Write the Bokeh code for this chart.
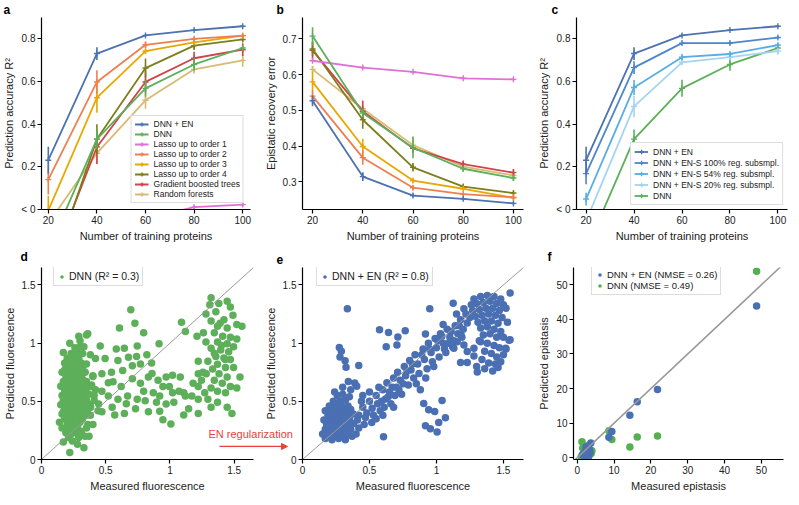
from bokeh.plotting import figure
from bokeh.layouts import row, column
from bokeh.models import FixedTicker, Legend, LegendItem, Label, Arrow, NormalHead
from bokeh.embed import file_html
from bokeh.resources import INLINE

FONT = "Liberation Sans"

# ---------------- data ----------------
n_train = [20, 40, 60, 80, 100]

# panel a: prediction accuracy R2 (values below 0 are clipped at "< 0")
acc_dnn_en = [0.231, 0.731, 0.816, 0.841, 0.859]
acc_dnn_en_err = [0.063, 0.03, 0.005, 0.004, 0.004]
acc_dnn = [-0.19, 0.33, 0.568, 0.680, 0.757]
acc_dnn_err = [0.0, 0.045, 0.04, 0.03, 0.012]
acc_lasso1 = [-0.30, -0.12, -0.044, 0.011, 0.023]
acc_lasso1_err = [0.0, 0.0, 0.0, 0.008, 0.008]
acc_lasso2 = [0.14, 0.598, 0.772, 0.800, 0.815]
acc_lasso2_err = [0.07, 0.055, 0.015, 0.008, 0.006]
acc_lasso3 = [-0.005, 0.524, 0.742, 0.783, 0.815]
acc_lasso3_err = [0.07, 0.07, 0.012, 0.008, 0.006]
acc_lasso4 = [-0.33, 0.33, 0.663, 0.768, 0.797]
acc_lasso4_err = [0.0, 0.07, 0.045, 0.02, 0.01]
acc_gbt = [-0.29, 0.293, 0.598, 0.709, 0.749]
acc_gbt_err = [0.0, 0.08, 0.05, 0.03, 0.03]
acc_rf = [-0.066, 0.264, 0.512, 0.657, 0.699]
acc_rf_err = [0.0, 0.05, 0.04, 0.02, 0.03]

# panel b: epistatic recovery error
rec_dnn_en = [0.527, 0.315, 0.262, 0.253, 0.240]
rec_dnn_en_err = [0.015, 0.012, 0.005, 0.004, 0.004]
rec_dnn = [0.708, 0.493, 0.396, 0.337, 0.311]
rec_dnn_err = [0.025, 0.012, 0.03, 0.008, 0.008]
rec_lasso1 = [0.639, 0.620, 0.608, 0.590, 0.587]
rec_lasso1_err = [0.004, 0.003, 0.003, 0.003, 0.003]
rec_lasso2 = [0.540, 0.368, 0.284, 0.266, 0.257]
rec_lasso2_err = [0.015, 0.02, 0.006, 0.004, 0.004]
rec_lasso3 = [0.580, 0.399, 0.304, 0.281, 0.256]
rec_lasso3_err = [0.028, 0.022, 0.006, 0.005, 0.004]
rec_lasso4 = [0.672, 0.474, 0.341, 0.287, 0.269]
rec_lasso4_err = [0.02, 0.025, 0.012, 0.006, 0.005]
rec_gbt = [0.668, 0.498, 0.394, 0.350, 0.326]
rec_gbt_err = [0.025, 0.03, 0.01, 0.01, 0.01]
rec_rf = [0.615, 0.505, 0.403, 0.343, 0.318]
rec_rf_err = [0.01, 0.01, 0.025, 0.01, 0.01]

# panel c: regularization subsampling
acc_en_s100 = [0.168, 0.665, 0.780, 0.780, 0.806]
acc_en_s100_err = [0.05, 0.03, 0.008, 0.008, 0.006]
acc_en_s54 = [0.049, 0.572, 0.714, 0.729, 0.771]
acc_en_s54_err = [0.03, 0.035, 0.012, 0.01, 0.01]
acc_en_s20 = [-0.054, 0.483, 0.690, 0.714, 0.742]
acc_en_s20_err = [0.0, 0.05, 0.012, 0.01, 0.015]

# panel d: DNN measured vs predicted fluorescence
dnn_left_cluster = [
    (0.22, 0.06), (0.33, 0.10), (0.28, 0.13), (0.17, 0.15), (0.24, 0.16),
    (0.21, 0.19), (0.29, 0.19), (0.34, 0.20), (0.19, 0.23), (0.26, 0.23), (0.31, 0.24),
    (0.16, 0.27), (0.23, 0.27), (0.28, 0.28), (0.35, 0.27),
    (0.14, 0.32), (0.20, 0.31), (0.25, 0.31), (0.30, 0.32), (0.36, 0.30),
    (0.18, 0.35), (0.22, 0.36), (0.27, 0.35), (0.32, 0.35),
    (0.16, 0.39), (0.21, 0.40), (0.25, 0.39), (0.29, 0.39), (0.34, 0.40), (0.38, 0.38),
    (0.18, 0.43), (0.23, 0.43), (0.27, 0.44), (0.31, 0.43), (0.36, 0.43),
    (0.15, 0.47), (0.20, 0.47), (0.24, 0.48), (0.28, 0.47), (0.33, 0.47), (0.38, 0.47),
    (0.17, 0.51), (0.21, 0.51), (0.26, 0.52), (0.30, 0.51), (0.35, 0.51),
    (0.16, 0.55), (0.20, 0.55), (0.24, 0.56), (0.28, 0.55), (0.32, 0.55), (0.37, 0.56),
    (0.18, 0.59), (0.22, 0.59), (0.26, 0.60), (0.30, 0.59), (0.34, 0.59),
    (0.15, 0.63), (0.20, 0.63), (0.24, 0.64), (0.28, 0.63), (0.33, 0.63),
    (0.17, 0.67), (0.21, 0.67), (0.25, 0.68), (0.29, 0.67), (0.35, 0.67),
    (0.19, 0.71), (0.23, 0.71), (0.27, 0.72), (0.31, 0.71),
    (0.16, 0.75), (0.21, 0.75), (0.25, 0.76), (0.30, 0.75), (0.34, 0.75),
    (0.19, 0.79), (0.23, 0.79), (0.28, 0.80), (0.32, 0.79),
    (0.18, 0.83), (0.22, 0.83), (0.26, 0.84), (0.31, 0.83),
    (0.20, 0.87), (0.25, 0.88), (0.29, 0.87),
    (0.17, 0.92), (0.23, 0.91), (0.28, 0.92), (0.32, 0.91),
    (0.26, 0.96), (0.33, 0.97), (0.22, 1.00), (0.30, 1.02), (0.29, 1.06), (0.35, 1.07),
    (0.19, 0.45), (0.26, 0.49), (0.22, 0.53), (0.27, 0.58), (0.19, 0.61), (0.23, 0.66),
    (0.27, 0.70), (0.21, 0.73), (0.25, 0.41), (0.29, 0.53), (0.24, 0.37), (0.20, 0.34),
    (0.30, 0.62), (0.25, 0.25), (0.40, 0.72), (0.42, 0.60), (0.39, 0.64), (0.41, 0.51),
    (0.44, 0.42), (0.40, 0.30), (0.38, 0.90), (0.37, 0.20), (0.36, 1.08), (0.38, 0.45),
    (0.18, 0.49), (0.23, 0.46), (0.32, 0.49), (0.28, 0.42), (0.19, 0.57), (0.31, 0.57),
    (0.25, 0.61), (0.22, 0.69), (0.32, 0.69), (0.18, 0.77), (0.26, 0.78), (0.24, 0.85),
    (0.21, 0.38), (0.30, 0.45), (0.33, 0.65), (0.17, 0.41), (0.27, 0.32), (0.29, 0.25),
    (0.23, 0.22), (0.20, 0.27), (0.35, 0.38), (0.36, 0.62), (0.35, 0.82), (0.30, 0.97),
]
dnn_middle = [
    (0.695, 1.287), (0.727, 1.17), (0.607, 1.13), (0.795, 1.09), (0.457, 0.976),
    (0.582, 0.95), (0.645, 0.955), (0.745, 0.976), (0.915, 0.995), (1.09, 1.18),
    (1.12, 1.10), (1.21, 1.06), (0.42, 0.867), (0.495, 0.867), (0.595, 0.85),
    (0.677, 0.878), (0.74, 0.886), (0.82, 0.90), (0.707, 0.805), (0.77, 0.82),
    (0.857, 0.83), (0.632, 0.764), (0.545, 0.75), (0.47, 0.736), (0.40, 0.714),
    (0.39, 0.627), (0.47, 0.586), (0.557, 0.668), (0.62, 0.627), (0.707, 0.695),
    (0.77, 0.655), (0.832, 0.709), (0.907, 0.682), (0.97, 0.709), (1.02, 0.723),
    (1.08, 0.709), (0.945, 0.627), (0.995, 0.627), (0.795, 0.586), (0.87, 0.573),
    (0.92, 0.545), (1.02, 0.573), (1.07, 0.586), (1.107, 0.573), (1.17, 0.545),
    (1.22, 0.518), (0.52, 0.545), (0.595, 0.518), (0.67, 0.545), (0.745, 0.518),
    (0.807, 0.505), (0.895, 0.491), (0.97, 0.477), (1.03, 0.491), (0.445, 0.477),
    (0.47, 0.41), (0.57, 0.382), (0.645, 0.395), (0.732, 0.436), (0.832, 0.41),
    (0.92, 0.414), (0.945, 0.341), (1.007, 0.305), (1.107, 0.382), (1.145, 0.436),
    (0.382, 0.45), (1.12, 0.545), (1.18, 0.655), (1.22, 0.736), (0.41, 0.55),
    (0.52, 0.66), (0.86, 0.74), (0.66, 0.48), (0.55, 0.45),
]
dnn_right_cluster = [
    (1.32, 1.39), (1.445, 1.36), (1.31, 1.33), (1.38, 1.34), (1.47, 1.31),
    (1.357, 1.27), (1.28, 1.25), (1.49, 1.24), (1.42, 1.20), (1.32, 1.19),
    (1.52, 1.16), (1.56, 1.145), (1.37, 1.145), (1.445, 1.13), (1.26, 1.09),
    (1.345, 1.09), (1.41, 1.06), (1.47, 1.05), (1.52, 1.036), (1.28, 1.01),
    (1.37, 1.01), (1.445, 0.995), (1.495, 0.968), (1.32, 0.955), (1.395, 0.94),
    (1.457, 0.927), (1.357, 0.886), (1.42, 0.873), (1.295, 0.845), (1.47, 0.859),
    (1.37, 0.818), (1.432, 0.791), (1.495, 0.791), (1.332, 0.777), (1.22, 0.845),
    (1.382, 0.736), (1.445, 0.709), (1.545, 0.709), (1.345, 0.682), (1.407, 0.655),
    (1.47, 0.627), (1.52, 0.614), (1.32, 0.614), (1.37, 0.586), (1.432, 0.573),
    (1.27, 0.573), (1.22, 0.627), (1.245, 0.682), (1.295, 0.518), (1.37, 0.491),
    (1.445, 0.45), (1.482, 0.395), (1.22, 0.395), (1.32, 0.45), (1.257, 0.75),
    (1.345, 0.914), (1.282, 0.736), (1.40, 0.98), (1.43, 0.86), (1.39, 1.17),
]

# panel e: DNN + EN measured vs predicted fluorescence
en_left_cluster = [
    (0.17, 0.18), (0.22, 0.17), (0.27, 0.18), (0.32, 0.17), (0.37, 0.20),
    (0.15, 0.22), (0.19, 0.22), (0.24, 0.22), (0.29, 0.21), (0.34, 0.22), (0.40, 0.22),
    (0.17, 0.26), (0.21, 0.26), (0.26, 0.26), (0.31, 0.26), (0.36, 0.26), (0.42, 0.27),
    (0.18, 0.30), (0.23, 0.30), (0.28, 0.30), (0.33, 0.30), (0.38, 0.31),
    (0.16, 0.34), (0.21, 0.34), (0.25, 0.34), (0.30, 0.34), (0.35, 0.35), (0.41, 0.34),
    (0.19, 0.38), (0.24, 0.38), (0.28, 0.38), (0.33, 0.38), (0.38, 0.39),
    (0.17, 0.42), (0.22, 0.42), (0.27, 0.42), (0.31, 0.42), (0.36, 0.43),
    (0.20, 0.46), (0.25, 0.46), (0.29, 0.46), (0.34, 0.46),
    (0.23, 0.50), (0.28, 0.50), (0.32, 0.51), (0.26, 0.55), (0.30, 0.56), (0.35, 0.54),
    (0.24, 0.58), (0.26, 0.24), (0.23, 0.32), (0.30, 0.28), (0.27, 0.36), (0.20, 0.30),
    (0.32, 0.40), (0.275, 0.962), (0.29, 0.93), (0.28, 0.88), (0.318, 0.848),
    (0.325, 0.793), (0.42, 0.807), (0.342, 0.671), (0.39, 0.658), (0.405, 0.63),
    (0.335, 1.296), (0.36, 0.60), (0.30, 0.62),
]
en_band = [
    (0.42, 0.38), (0.45, 0.45), (0.48, 0.40), (0.50, 0.50), (0.52, 0.44), (0.55, 0.55),
    (0.56, 0.48), (0.58, 0.42), (0.60, 0.60), (0.62, 0.52), (0.63, 0.66), (0.65, 0.58),
    (0.66, 0.48), (0.68, 0.70), (0.70, 0.62), (0.71, 0.75), (0.73, 0.68), (0.74, 0.56),
    (0.76, 0.80), (0.77, 0.72), (0.79, 0.64), (0.80, 0.85), (0.81, 0.77), (0.83, 0.70),
    (0.84, 0.90), (0.86, 0.82), (0.87, 0.74), (0.88, 0.60), (0.90, 0.95), (0.91, 0.86),
    (0.93, 0.78), (0.94, 1.00), (0.96, 0.92), (0.97, 0.84), (0.99, 1.04), (1.00, 0.96),
    (1.02, 0.88), (1.03, 1.08), (1.05, 1.00), (1.07, 0.92), (1.08, 1.12), (1.10, 1.05),
    (1.12, 0.97), (1.14, 1.15), (1.16, 1.08), (1.18, 1.20), (1.20, 1.12), (1.22, 1.25),
    (0.575, 1.114), (0.642, 1.092), (0.712, 1.052), (0.767, 1.106), (0.705, 0.984),
    (0.625, 0.97), (0.95, 1.296), (1.125, 1.342), (0.918, 1.079), (1.05, 1.16),
    (1.205, 1.296), (1.185, 1.065), (1.23, 1.174),
    (0.918, 0.29), (0.955, 0.264), (1.005, 0.236), (1.042, 0.508), (1.067, 0.359),
    (1.017, 0.318), (0.942, 0.427), (0.987, 0.413), (0.905, 0.481), (0.605, 0.196),
    (0.517, 0.318), (0.46, 0.30), (0.55, 0.35), (0.60, 0.38), (0.68, 0.45), (0.45, 0.55),
    (0.44, 0.50), (0.47, 0.36), (0.50, 0.58), (0.53, 0.38), (0.57, 0.62), (0.59, 0.50),
    (0.61, 0.45), (0.64, 0.54), (0.67, 0.62), (0.69, 0.55), (0.72, 0.60), (0.75, 0.65),
    (0.78, 0.76), (0.82, 0.82), (0.85, 0.65), (0.89, 0.90), (0.92, 0.70), (0.95, 0.95),
    (0.98, 0.80), (1.01, 1.02), (1.04, 1.06), (1.06, 0.95), (1.09, 1.00), (1.11, 1.10),
    (1.13, 1.02), (1.15, 1.25), (1.17, 1.15), (1.19, 1.05),
]
en_right_cluster = [
    (1.28, 1.38), (1.33, 1.40), (1.38, 1.41), (1.43, 1.40), (1.48, 1.38), (1.55, 1.43),
    (1.26, 1.33), (1.30, 1.34), (1.35, 1.35), (1.40, 1.36), (1.45, 1.34), (1.50, 1.33),
    (1.27, 1.28), (1.32, 1.29), (1.37, 1.30), (1.42, 1.30), (1.47, 1.28), (1.52, 1.30),
    (1.29, 1.23), (1.34, 1.24), (1.39, 1.25), (1.44, 1.24), (1.49, 1.22),
    (1.31, 1.18), (1.36, 1.19), (1.41, 1.19), (1.46, 1.17), (1.53, 1.18),
    (1.25, 1.22), (1.33, 1.13), (1.38, 1.14), (1.43, 1.12), (1.48, 1.10),
    (1.35, 1.07), (1.40, 1.08), (1.45, 1.05), (1.50, 1.05), (1.55, 1.03),
    (1.32, 1.02), (1.38, 1.00), (1.43, 0.98), (1.47, 0.96), (1.52, 0.95),
    (1.36, 0.93), (1.41, 0.91), (1.45, 0.88), (1.50, 0.90),
    (1.34, 0.86), (1.39, 0.83), (1.44, 0.82), (1.48, 0.84),
    (1.30, 0.80), (1.36, 0.78), (1.42, 0.76), (1.46, 0.79),
    (1.18, 0.834), (1.23, 0.834), (1.28, 0.889), (1.305, 0.753), (1.33, 1.011),
    (1.28, 0.957), (1.23, 0.929), (1.205, 0.984), (1.155, 1.011), (1.13, 0.957),
    (1.542, 1.024), (1.517, 0.957),
]

# panel f: measured vs predicted epistasis
epi_en_meas = [48.7, 21.8, 16.3, 14.3, 9.4, 8.6, 3.7, 2.4, 1.8, 2.2, 2.6, 3.0, 3.3, 2.0, 2.8, 3.5, 1.5, 2.3, 3.1, 2.5]
epi_en_pred = [43.9, 19.7, 16.2, 12.3, 7.6, 5.9, 4.3, 3.1, 0.5, 1.2, 0.8, 1.9, 2.5, 0.2, 0.0, 1.5, 1.0, 2.2, 0.6, 1.7]
epi_dnn_meas = [48.7, 21.8, 16.3, 14.3, 9.4, 8.6, 1.3, 1.5, 2.2, 3.2, 3.8, 1.1, 2.6, 4.0]
epi_dnn_pred = [53.9, 6.3, 6.0, 3.1, 5.3, 7.8, 4.6, 2.8, 1.6, 0.5, 1.2, 0.4, 3.5, 2.0]
identity_line = [-5, 70]

# ---------------- colours ----------------
C_EN = "#4C72B0"
C_DNN = "#5CB05A"
C_L1 = "#E070D4"
C_L2 = "#EE8050"
C_L3 = "#E8A800"
C_L4 = "#7E7D1C"
C_GBT = "#D1434A"
C_RF = "#D8BA72"
C_S100 = "#4D86C9"
C_S54 = "#58AEE2"
C_S20 = "#A5D4F0"
C_SC_DNN = "#5DAF5A"
C_SC_EN = "#4A6FB3"
C_RED = "#E8413C"
FH = 192


def make_fig(fw, xr, yr, bl, br, bt, bb, xlabel, ylabel, tag, tag_dx, tag_gap):
    p = figure(frame_width=fw, frame_height=FH, x_range=xr, y_range=yr,
               output_backend="svg", toolbar_location=None,
               min_border_left=bl, min_border_right=br,
               min_border_top=bt, min_border_bottom=bb)
    p.outline_line_color = None
    p.xgrid.visible = False
    p.ygrid.visible = False
    for ax in (p.xaxis[0], p.yaxis[0]):
        ax.axis_line_color = "black"
        ax.axis_line_width = 1.2
        ax.major_tick_line_color = "black"
        ax.major_tick_line_width = 1.2
        ax.major_tick_out = 4
        ax.major_tick_in = 0
        ax.minor_tick_line_color = None
        ax.major_label_text_font = FONT
        ax.major_label_text_font_size = "10px"
        ax.major_label_text_color = "#222222"
        ax.major_label_standoff = 2
        ax.axis_label_text_font = FONT
        ax.axis_label_text_font_size = "11px"
        ax.axis_label_text_font_style = "normal"
        ax.axis_label_text_color = "#222222"
        ax.axis_label_standoff = 3
    p.xaxis.axis_label = xlabel
    p.yaxis.axis_label = ylabel
    # panel letter as a left-aligned, shifted title
    p.title.text = tag
    p.title.align = "left"
    p.title.offset = tag_dx
    p.title.standoff = tag_gap
    p.title.text_font = FONT
    p.title.text_font_size = "12px"
    p.title.text_font_style = "bold"
    p.title.text_color = "black"
    return p


def add_series(p, series):
    items = []
    for name, ys, es, col in reversed(series):
        lo = [y - e for y, e in zip(ys, es)]
        hi = [y + e for y, e in zip(ys, es)]
        r1 = p.line(n_train, ys, line_color=col, line_width=1.8)
        p.segment(x0=n_train, y0=lo, x1=n_train, y1=hi, line_color=col, line_width=1.6)
        r2 = p.scatter(n_train, ys, marker="cross", size=6, line_color=col, line_width=1.4)
        items.insert(0, LegendItem(label=name, renderers=[r1, r2]))
    return items


def style_legend(lg, fs, lh):
    lg.label_text_font = FONT
    lg.label_text_font_size = fs
    lg.label_text_color = "#222222"
    lg.label_height = lh
    lg.glyph_height = lh
    lg.spacing = 0
    lg.padding = 3
    lg.margin = 6
    lg.border_line_color = "#bbbbbb"
    lg.border_line_width = 1
    lg.background_fill_color = "white"
    lg.background_fill_alpha = 1


acc_ticks = [0, 0.2, 0.4, 0.6, 0.8]
acc_overrides = {0: "< 0"}

# ---------------- panel a ----------------
pa = make_fig(209, (17.2, 103.2), (0, 0.9), 38, 10, 0, 34,
              "Number of training proteins", "Prediction accuracy R²", "a", -38, 1)
pa.xaxis.ticker = FixedTicker(ticks=n_train)
pa.yaxis.ticker = FixedTicker(ticks=acc_ticks)
pa.yaxis.major_label_overrides = acc_overrides
items_a = add_series(pa, [
    ("DNN + EN", acc_dnn_en, acc_dnn_en_err, C_EN),
    ("DNN", acc_dnn, acc_dnn_err, C_DNN),
    ("Lasso up to order 1", acc_lasso1, acc_lasso1_err, C_L1),
    ("Lasso up to order 2", acc_lasso2, acc_lasso2_err, C_L2),
    ("Lasso up to order 3", acc_lasso3, acc_lasso3_err, C_L3),
    ("Lasso up to order 4", acc_lasso4, acc_lasso4_err, C_L4),
    ("Gradient boosted trees", acc_gbt, acc_gbt_err, C_GBT),
    ("Random forests", acc_rf, acc_rf_err, C_RF),
])
lg_a = Legend(items=items_a, location="bottom_right", glyph_width=14, label_standoff=5)
style_legend(lg_a, "8.5px", 10)
pa.add_layout(lg_a)

# ---------------- panel b ----------------
pb = make_fig(221, (16, 104), (0.223, 0.76), 42, 12, 0, 34,
              "Number of training proteins", "Epistatic recovery error", "b", -26, 1)
pb.xaxis.ticker = FixedTicker(ticks=n_train)
pb.yaxis.ticker = FixedTicker(ticks=[0.3, 0.4, 0.5, 0.6, 0.7])
add_series(pb, [
    ("DNN + EN", rec_dnn_en, rec_dnn_en_err, C_EN),
    ("DNN", rec_dnn, rec_dnn_err, C_DNN),
    ("Lasso up to order 1", rec_lasso1, rec_lasso1_err, C_L1),
    ("Lasso up to order 2", rec_lasso2, rec_lasso2_err, C_L2),
    ("Lasso up to order 3", rec_lasso3, rec_lasso3_err, C_L3),
    ("Lasso up to order 4", rec_lasso4, rec_lasso4_err, C_L4),
    ("Gradient boosted trees", rec_gbt, rec_gbt_err, C_GBT),
    ("Random forests", rec_rf, rec_rf_err, C_RF),
])

# ---------------- panel c ----------------
pc = make_fig(211, (16, 104), (0, 0.9), 37, 3, 0, 34,
              "Number of training proteins", "Prediction accuracy R²", "c", -25, 1)
pc.xaxis.ticker = FixedTicker(ticks=n_train)
pc.yaxis.ticker = FixedTicker(ticks=acc_ticks)
pc.yaxis.major_label_overrides = acc_overrides
items_c = add_series(pc, [
    ("DNN + EN", acc_dnn_en, acc_dnn_en_err, C_EN),
    ("DNN + EN-S 100% reg. subsmpl.", acc_en_s100, acc_en_s100_err, C_S100),
    ("DNN + EN-S 54% reg. subsmpl.", acc_en_s54, acc_en_s54_err, C_S54),
    ("DNN + EN-S 20% reg. subsmpl.", acc_en_s20, acc_en_s20_err, C_S20),
    ("DNN", acc_dnn, acc_dnn_err, C_DNN),
])
lg_c = Legend(items=items_c, location="bottom_right", glyph_width=14, label_standoff=5)
style_legend(lg_c, "8.5px", 11)
lg_c.margin = 4
pc.add_layout(lg_c)

# ---------------- panel d ----------------
fl_ticks = [0, 0.5, 1, 1.5]
fl_over = {0: "0", 1: "1"}
pd_ = make_fig(212, (0, 1.65), (0, 1.65), 38, 7, 22, 34,
               "Measured fluorescence", "Predicted fluorescence", "d", -21, 7)
for ax in (pd_.xaxis, pd_.yaxis):
    ax.ticker = FixedTicker(ticks=fl_ticks)
    ax.major_label_overrides = fl_over
dnn_pts = dnn_left_cluster + dnn_middle + dnn_right_cluster
dnn_meas = [q[0] for q in dnn_pts]
dnn_pred = [q[1] for q in dnn_pts]
rd = pd_.scatter(dnn_meas, dnn_pred, marker="circle", size=7.5, fill_color=C_SC_DNN, line_color=None)
pd_.line(identity_line, identity_line, line_color="#9a9a9a", line_width=1)
lg_d = Legend(items=[LegendItem(label="DNN (R² = 0.3)", renderers=[rd])],
              location=(12, FH - 2 - 17), glyph_width=9, label_standoff=3)
style_legend(lg_d, "10.5px", 11)
lg_d.margin = 0
pd_.add_layout(lg_d)

# transparent overlay figure (same vertical frame as d) carrying the "EN regularization" arrow
ov = figure(title=None, frame_width=95, frame_height=FH, x_range=(0, 95), y_range=(0, 1.65),
            output_backend="svg", toolbar_location=None,
            min_border_left=0, min_border_right=0, min_border_top=22, min_border_bottom=34)
ov.axis.visible = False
ov.xgrid.visible = False
ov.ygrid.visible = False
ov.outline_line_color = None
ov.background_fill_alpha = 0
ov.border_fill_alpha = 0
ov.add_layout(Label(x=3, y=0.223, text="EN regularization", text_font=FONT,
                    text_font_size="11px", text_color=C_RED, text_baseline="middle"))
ov.add_layout(Arrow(end=NormalHead(size=6, fill_color=C_RED, line_color=C_RED),
                    x_start=14, y_start=0.112, x_end=82, y_end=0.112,
                    line_color=C_RED, line_width=1.2))
ov.margin = (0, 0, 0, -55)

# ---------------- panel e ----------------
pe = make_fig(221, (0, 1.65), (0, 1.65), 42, 12, 22, 34,
              "Measured fluorescence", "Predicted fluorescence", "e", -26, 7)
for ax in (pe.xaxis, pe.yaxis):
    ax.ticker = FixedTicker(ticks=fl_ticks)
    ax.major_label_overrides = fl_over
en_pts = en_left_cluster + en_band + en_right_cluster
en_meas = [q[0] for q in en_pts]
en_pred = [q[1] for q in en_pts]
re_ = pe.scatter(en_meas, en_pred, marker="circle", size=7.5, fill_color=C_SC_EN, line_color=None)
pe.line(identity_line, identity_line, line_color="#9a9a9a", line_width=1)
lg_e = Legend(items=[LegendItem(label="DNN + EN (R² = 0.8)", renderers=[re_])],
              location=(14, FH - 2 - 17), glyph_width=9, label_standoff=3)
style_legend(lg_e, "10.5px", 11)
lg_e.margin = 0
pe.add_layout(lg_e)
pe.border_fill_alpha = 0
pe.margin = (0, 0, 0, -40)

# ---------------- panel f ----------------
pf = make_fig(210, (-1, 56), (-0.5, 55), 38, 3, 22, 34,
              "Measured epistasis", "Predicted epistasis", "f", -26, 7)
for ax in (pf.xaxis, pf.yaxis):
    ax.ticker = FixedTicker(ticks=[0, 10, 20, 30, 40, 50])
rfg = pf.scatter(epi_dnn_meas, epi_dnn_pred, marker="circle", size=7.5, fill_color="#55B04F", line_color=None)
rfb = pf.scatter(epi_en_meas, epi_en_pred, marker="circle", size=7.5, fill_color=C_SC_EN, line_color=None)
pf.line(identity_line, identity_line, line_color="#999999", line_width=1.6)
lg_f = Legend(items=[LegendItem(label="DNN + EN (NMSE = 0.26)", renderers=[rfb]),
                     LegendItem(label="DNN (NMSE = 0.49)", renderers=[rfg])],
              location=(18, FH - 28), glyph_width=9, label_standoff=3)
style_legend(lg_f, "9.5px", 11)
lg_f.margin = 0
pf.add_layout(lg_f)

layout = column(row(pa, pb, pc), row(pd_, ov, pe, pf))
open("out.html", "w").write(file_html(layout, INLINE))
